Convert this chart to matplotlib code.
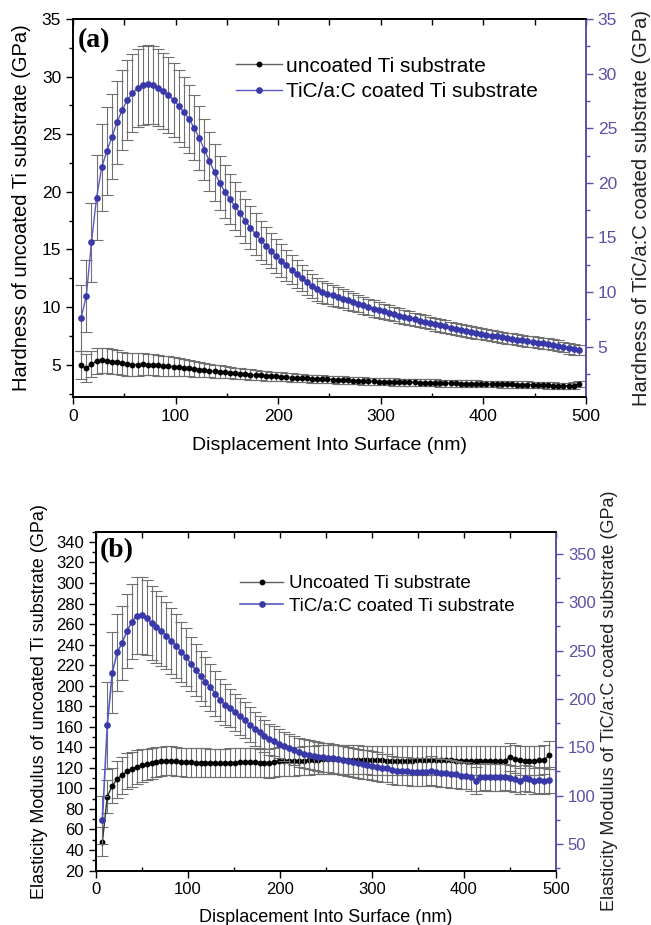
import matplotlib.pyplot as plt
from matplotlib.lines import Line2D
from matplotlib.ticker import MultipleLocator

plt.rcParams['font.family'] = ['Liberation Sans', 'DejaVu Sans']

# ---- panel (a): hardness ----
depth_a = [8, 13, 18, 23, 28, 33, 38, 43, 48, 53, 58, 63, 68, 73, 78, 83, 88, 93, 98, 103,
           108, 113, 118, 123, 128, 133, 138, 143, 148, 153, 158, 163, 168, 173, 178, 183, 188, 193, 198, 203,
           208, 213, 218, 223, 228, 233, 238, 243, 248, 253, 258, 263, 268, 273, 278, 283, 288, 293, 298, 303,
           308, 313, 318, 323, 328, 333, 338, 343, 348, 353, 358, 363, 368, 373, 378, 383, 388, 393, 398, 403,
           408, 413, 418, 423, 428, 433, 438, 443, 448, 453, 458, 463, 468, 473, 478, 483, 488, 493]

hard_ti = [4.95, 4.7, 5.05, 5.32, 5.38, 5.35, 5.28, 5.2, 5.12, 5.05, 5.02, 5.02, 5.03, 5.02, 5.0, 4.96, 4.92, 4.88, 4.83, 4.78,
           4.73, 4.68, 4.63, 4.58, 4.53, 4.48, 4.44, 4.40, 4.36, 4.32, 4.27, 4.23, 4.19, 4.15, 4.11, 4.08, 4.04, 4.01, 3.98, 3.95,
           3.92, 3.89, 3.87, 3.84, 3.81, 3.79, 3.77, 3.75, 3.73, 3.71, 3.69, 3.67, 3.65, 3.63, 3.61, 3.59, 3.57, 3.55, 3.54, 3.52,
           3.51, 3.50, 3.49, 3.48, 3.47, 3.46, 3.45, 3.44, 3.43, 3.42, 3.41, 3.40, 3.39, 3.38, 3.37, 3.37, 3.36, 3.35, 3.34, 3.34,
           3.33, 3.32, 3.31, 3.30, 3.29, 3.28, 3.27, 3.26, 3.25, 3.24, 3.22, 3.20, 3.18, 3.17, 3.16, 3.15, 3.18, 3.35]
hard_ti_err = [1.2, 1.2, 1.15, 1.1, 1.08, 1.06, 1.05, 1.04, 1.02, 1.0, 1.0, 0.98, 0.96, 0.95, 0.93, 0.9, 0.87, 0.84, 0.8, 0.77,
               0.74, 0.7, 0.67, 0.64, 0.61, 0.58, 0.56, 0.54, 0.52, 0.5, 0.48, 0.46, 0.45, 0.44, 0.43, 0.42, 0.41, 0.4, 0.39, 0.38,
               0.37, 0.36, 0.35, 0.35, 0.34, 0.34, 0.33, 0.33, 0.32, 0.32, 0.32, 0.32, 0.32, 0.32, 0.32, 0.32, 0.32, 0.32, 0.31, 0.31,
               0.31, 0.31, 0.31, 0.31, 0.31, 0.31, 0.31, 0.31, 0.3, 0.3, 0.3, 0.3, 0.3, 0.3, 0.3, 0.3, 0.3, 0.3, 0.29, 0.29,
               0.29, 0.29, 0.29, 0.29, 0.29, 0.29, 0.29, 0.29, 0.28, 0.28, 0.28, 0.28, 0.28, 0.28, 0.28, 0.28, 0.28, 0.28]

hard_coat = [7.65, 9.66, 14.55, 18.64, 21.42, 22.91, 24.22, 25.54, 26.67, 27.58, 28.22, 28.68, 28.93, 29.02, 28.96, 28.71, 28.43, 28.04, 27.58, 27.06,
             26.48, 25.84, 25.05, 24.1, 23.05, 22.0, 20.95, 20.0, 19.2, 18.5, 17.85, 17.2, 16.5, 15.9, 15.3, 14.75, 14.25, 13.77, 13.3, 12.86,
             12.45, 12.05, 11.66, 11.28, 10.9, 10.55, 10.25, 10.0, 9.85, 9.7, 9.55, 9.4, 9.25, 9.1, 8.95, 8.8, 8.65, 8.5, 8.37, 8.24,
             8.11, 7.98, 7.86, 7.74, 7.62, 7.50, 7.39, 7.28, 7.17, 7.06, 6.96, 6.86, 6.76, 6.66, 6.56, 6.46, 6.37, 6.28, 6.19, 6.10,
             6.02, 5.94, 5.86, 5.79, 5.72, 5.65, 5.58, 5.51, 5.44, 5.38, 5.32, 5.26, 5.20, 5.08, 4.98, 4.88, 4.78, 4.70]
hard_coat_err = [3.0, 3.3, 3.6, 3.9, 4.0, 4.0, 3.9, 3.8, 3.7, 3.65, 3.6, 3.6, 3.6, 3.6, 3.6, 3.55, 3.5, 3.45, 3.4, 3.3,
                 3.2, 3.1, 3.0, 2.9, 2.8, 2.7, 2.6, 2.5, 2.4, 2.3, 2.2, 2.1, 2.0, 1.95, 1.9, 1.8, 1.7, 1.6, 1.55, 1.5,
                 1.4, 1.35, 1.3, 1.2, 1.15, 1.1, 1.05, 1.0, 0.97, 0.94, 0.91, 0.88, 0.85, 0.82, 0.8, 0.78, 0.76, 0.74, 0.72, 0.7,
                 0.68, 0.66, 0.65, 0.64, 0.63, 0.62, 0.61, 0.6, 0.59, 0.58, 0.57, 0.56, 0.55, 0.55, 0.54, 0.54, 0.53, 0.53, 0.52, 0.52,
                 0.51, 0.51, 0.5, 0.5, 0.5, 0.5, 0.5, 0.5, 0.5, 0.5, 0.5, 0.5, 0.5, 0.5, 0.5, 0.5, 0.5, 0.5]

# ---- panel (b): elastic modulus ----
depth_b = [7.5, 12.8, 18.2, 23.5, 28.8, 34.2, 39.5, 44.8, 50.1, 55.5, 60.8, 66.1, 71.5, 76.8, 82.1, 87.5, 92.8, 98.1, 103.4, 108.8,
           114.1, 119.4, 124.8, 130.1, 135.4, 140.8, 146.1, 151.4, 156.7, 162.1, 167.4, 172.7, 178.1, 183.4, 188.7, 194.1, 199.4, 204.7, 210.0, 215.4,
           220.7, 226.0, 231.4, 236.7, 242.0, 247.4, 252.7, 258.0, 263.3, 268.7, 274.0, 279.3, 284.7, 290.0, 295.3, 300.7, 306.0, 311.3, 316.6, 322.0,
           327.3, 332.6, 338.0, 343.3, 348.6, 354.0, 359.3, 364.6, 369.9, 375.3, 380.6, 385.9, 391.3, 396.6, 401.9, 407.3, 412.6, 417.9, 423.2, 428.6,
           433.9, 439.2, 444.6, 449.9, 455.2, 460.6, 465.9, 471.2, 476.5, 481.9, 487.2, 492.5]

mod_ti = [48, 92, 102.5, 109, 113, 116.5, 118.7, 120.7, 122.5, 123.3, 124.5, 125.5, 126.4, 127, 126.8, 126.2, 125.8, 125.5, 125.3, 125.2,
          125, 125, 124.8, 124.6, 124.6, 124.8, 125, 125.2, 125.4, 125.5, 125.5, 125.4, 125.2, 124.8, 124.5, 125.5, 126.2, 126.5, 126.5, 126.5,
          126.6, 127, 127.4, 127.7, 128, 128.2, 128.3, 128.3, 128.3, 128.1, 128, 127.9, 127.8, 127.7, 127.6, 127.5, 127.3, 127.2, 127.1, 127,
          126.9, 126.9, 127, 127.1, 127.2, 127.3, 127.4, 127.5, 127.5, 127.4, 127.3, 127.2, 127.1, 127, 127, 126.9, 126.9, 127, 127, 127.1,
          127, 126.9, 127, 130.5, 128.5, 127.5, 127, 126.8, 126.8, 127.2, 127.8, 132.5]
mod_ti_err = [14, 16, 17, 18, 18, 17.5, 17, 16.5, 16, 15.5, 15, 14.5, 14, 14, 14, 14, 14, 14, 14, 14,
              14, 14, 14, 14, 14, 14, 14, 14, 14, 14, 14, 14, 14, 14, 14, 14, 14, 14, 14, 14,
              14, 14, 14, 14, 14, 14, 14, 14, 14, 14, 14, 14, 14, 14, 14, 14, 14, 14, 14, 14,
              14, 14, 14, 14, 14, 14, 14, 14, 14, 14, 14, 14, 14, 14, 14, 14, 14, 14, 14, 14,
              14, 14, 14, 14, 14, 14, 14, 14, 14, 14, 14, 14]

mod_coat = [75, 173, 227, 248, 258, 270, 280, 286, 286.5, 284, 278.5, 274.5, 270, 265.5, 260, 255, 249, 243.5, 236.5, 230,
            224, 218, 212, 205.5, 199, 194, 190.5, 186, 182, 178, 173.5, 169, 165.5, 162, 158.5, 156, 153.5, 151, 149, 147,
            145, 143.5, 142.2, 141.2, 140.4, 139.7, 139.1, 138.5, 137.5, 136.5, 135.5, 134.5, 133.5, 132.5, 131.8, 131, 130, 129, 128.5, 126.5,
            125.5, 125, 125.5, 124.8, 124.5, 124, 124.5, 126, 124, 123.5, 123, 122.5, 122, 120.5, 120.5, 119, 115.5, 119, 119.5, 119,
            119, 119, 119, 118, 117, 115.5, 118, 117, 115, 116, 115.5, 116]
mod_coat_err = [25, 45, 42, 40, 38, 38, 39, 40, 40, 39, 38, 37, 36, 35, 34, 33, 31, 30, 28, 27,
                26, 25, 24, 23, 22, 21, 20, 19.5, 19, 18.5, 18, 17.5, 17, 16.5, 16, 15.5, 15, 15, 15, 15,
                15, 15, 15, 15, 15, 15, 15, 15, 15, 15, 15, 15, 15, 15, 15, 15, 15, 14.5, 14.5, 14.5,
                14.5, 14.5, 14.5, 14.5, 14.5, 14.5, 14.5, 14.5, 14.5, 14.5, 14.5, 14.5, 14, 14, 14, 14, 14, 14, 14, 14,
                14, 14, 13.5, 13.5, 13.5, 13.5, 13.5, 13.5, 13.5, 13.5, 13.5, 13.5]

BLUE_MK = '#3838a8'
BLUE_LN = '#5a5ac4'
AXIS_BL = '#5a50a6'
ERR = '#707070'


def style_axes(ax, ax2, tick_fs):
    ax.tick_params(axis='both', which='major', direction='out', length=5, width=1, labelsize=tick_fs)
    ax.tick_params(axis='y', which='minor', direction='out', length=3, width=1)
    ax.tick_params(axis='x', which='minor', direction='in', length=3, width=1)
    ax2.tick_params(axis='y', which='major', direction='out', length=5, width=1,
                    labelsize=tick_fs, colors=AXIS_BL)
    ax2.tick_params(axis='y', which='minor', direction='out', length=3, width=1, colors=AXIS_BL)
    for s in ['left', 'bottom', 'top']:
        ax.spines[s].set_linewidth(1.2)
        ax2.spines[s].set_linewidth(1.2)
    ax2.spines['right'].set_color(AXIS_BL)
    ax2.spines['right'].set_linewidth(1.4)
    ax.spines['right'].set_visible(False)
    sec = ax.secondary_xaxis('top')
    sec.xaxis.set_major_locator(MultipleLocator(50))
    sec.tick_params(direction='in', length=4, width=1, labeltop=False)
    sec.spines['top'].set_linewidth(1.2)


fig = plt.figure(figsize=(6.51, 9.25), dpi=100)

# ----- (a) -----
ax = fig.add_axes([0.1121, 0.5708, 0.788, 0.4087])
ax2 = ax.twinx()
ax.errorbar(depth_a, hard_ti, yerr=hard_ti_err, fmt='none', ecolor=ERR, elinewidth=0.8,
            capsize=4.3, capthick=0.8)
ax.plot(depth_a, hard_ti, '-o', color='#303030', lw=1, ms=3.2, mfc='black', mec='black')
ax2.errorbar(depth_a, hard_coat, yerr=hard_coat_err, fmt='none', ecolor=ERR, elinewidth=0.8,
             capsize=4.3, capthick=0.8)
ax2.plot(depth_a, hard_coat, '-', color=BLUE_LN, lw=1)
ax2.plot(depth_a, hard_coat, 'o', ms=3.8, mfc=BLUE_MK, mec=BLUE_MK)

ax.set_xlim(0, 500)
ax.set_ylim(2.2, 35)
ax2.set_ylim(0.4, 35)
ax.xaxis.set_major_locator(MultipleLocator(100))
ax.xaxis.set_minor_locator(MultipleLocator(50))
ax.yaxis.set_major_locator(MultipleLocator(5))
ax.yaxis.set_minor_locator(MultipleLocator(2.5))
ax2.yaxis.set_major_locator(MultipleLocator(5))
ax2.yaxis.set_minor_locator(MultipleLocator(2.5))
style_axes(ax, ax2, 12.5)

ax.set_xlabel('Displacement Into Surface (nm)', fontsize=14)
ax.xaxis.set_label_coords(0.5, -0.106)
ax.set_ylabel('Hardness of uncoated Ti substrate (GPa)', fontsize=14.5)
ax.yaxis.set_label_coords(-0.082, 0.5)
ax2.set_ylabel('Hardness of TiC/a:C coated substrate (GPa)', fontsize=14.5, color='#222222')
ax2.yaxis.set_label_coords(1.09, 0.5)
ax.text(0.01, 0.944, '(a)', transform=ax.transAxes, fontsize=20, fontweight='bold',
        family='Liberation Serif', va='center', ha='left')

handles_a = [Line2D([], [], color='#606060', lw=1, marker='o', ms=3.2, mfc='black', mec='black'),
             Line2D([], [], color=BLUE_LN, lw=1, marker='o', ms=3.8, mfc=BLUE_MK, mec=BLUE_MK)]
ax2.legend(handles_a, ['uncoated Ti substrate', 'TiC/a:C coated Ti substrate'],
           loc='center left', bbox_to_anchor=(0.318, 0.842), frameon=False, fontsize=15,
           handlelength=2.2, handletextpad=0.2, labelspacing=0.3, borderpad=0, borderaxespad=0)

# ----- (b) -----
bx = fig.add_axes([0.1467, 0.0589, 0.7074, 0.3663])
bx2 = bx.twinx()
bx.errorbar(depth_b, mod_ti, yerr=mod_ti_err, fmt='none', ecolor=ERR, elinewidth=0.8,
            capsize=4.3, capthick=0.8)
bx.plot(depth_b, mod_ti, '-o', color='#303030', lw=1, ms=3.2, mfc='black', mec='black')
bx2.errorbar(depth_b, mod_coat, yerr=mod_coat_err, fmt='none', ecolor=ERR, elinewidth=0.8,
             capsize=4.3, capthick=0.8)
bx2.plot(depth_b, mod_coat, '-', color=BLUE_LN, lw=1.2)
bx2.plot(depth_b, mod_coat, 'o', ms=3.8, mfc=BLUE_MK, mec=BLUE_MK)

bx.set_xlim(0, 500)
bx.set_ylim(20, 350)
bx2.set_ylim(22.6, 372.9)
bx.xaxis.set_major_locator(MultipleLocator(100))
bx.xaxis.set_minor_locator(MultipleLocator(50))
bx.yaxis.set_major_locator(MultipleLocator(20))
bx.yaxis.set_minor_locator(MultipleLocator(10))
bx2.yaxis.set_major_locator(MultipleLocator(50))
bx2.yaxis.set_minor_locator(MultipleLocator(25))
bx2.set_yticks([50, 100, 150, 200, 250, 300, 350])
style_axes(bx, bx2, 12)

bx.set_xlabel('Displacement Into Surface (nm)', fontsize=13)
bx.xaxis.set_label_coords(0.5, -0.115)
bx.set_ylabel('Elasticity Modulus of uncoated Ti substrate (GPa)', fontsize=13)
bx.yaxis.set_label_coords(-0.103, 0.5)
bx2.set_ylabel('Elasticity Modulus of TiC/a:C coated substrate (GPa)', fontsize=13, color='#222222')
bx2.yaxis.set_label_coords(1.0977, 0.5)
bx.text(0.01, 0.943, '(b)', transform=bx.transAxes, fontsize=20, fontweight='bold',
        family='Liberation Serif', va='center', ha='left')

handles_b = [Line2D([], [], color='#606060', lw=1, marker='o', ms=3.2, mfc='black', mec='black'),
             Line2D([], [], color=BLUE_LN, lw=1.2, marker='o', ms=3.8, mfc=BLUE_MK, mec=BLUE_MK)]
bx2.legend(handles_b, ['Uncoated Ti substrate', 'TiC/a:C coated Ti substrate'],
           loc='center left', bbox_to_anchor=(0.314, 0.813), frameon=False, fontsize=13.5,
           handlelength=2.3, handletextpad=0.3, labelspacing=0.3, borderpad=0, borderaxespad=0)

fig.savefig('out.png', dpi=100)
